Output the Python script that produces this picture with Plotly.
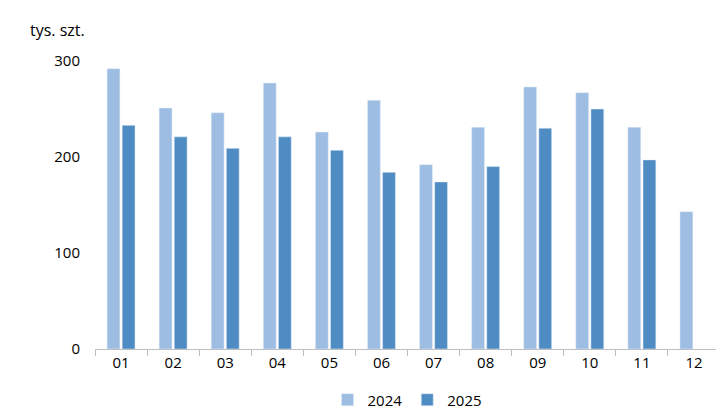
import plotly.graph_objects as go

months = ["01","02","03","04","05","06","07","08","09","10","11","12"]
v2024 = [292, 251, 246, 277, 226, 259, 192, 231, 273, 267, 231, 143]
v2025 = [233, 221, 209, 221, 207, 184, 174, 190, 230, 250, 197, None]

fig = go.Figure()
fig.add_bar(x=months, y=v2024, name="2024", marker_color="#9dbde3")
fig.add_bar(x=months, y=v2025, name="2025", marker_color="#508cc4")
fig.update_layout(
    width=724, height=412, barmode="group", bargap=0.42, bargroupgap=0.15,
    plot_bgcolor="white", paper_bgcolor="white",
    margin=dict(l=87, r=12, t=53, b=71, autoexpand=False),
    font=dict(family="Open Sans, Liberation Sans", size=15, color="#000"),
    legend=dict(orientation="h", x=0.5, xanchor="center", y=-0.177, yanchor="middle",
                font=dict(size=15), itemwidth=30, tracegroupgap=0),
)
fig.layout.annotations = [dict(text="tys. szt.", x=-0.107, y=1.108, xref="paper", yref="paper",
                               xanchor="left", yanchor="middle", showarrow=False, font=dict(size=16))]
fig.update_xaxes(showline=True, linecolor="#bfbfbf", ticks="outside", tickcolor="#bfbfbf",
                 tickson="boundaries", ticklen=6, automargin=False)
fig.update_yaxes(range=[0, 300], dtick=100, showgrid=False, zeroline=False,
                 ticklabelstandoff=14, automargin=False)
fig.write_html("out.html")
